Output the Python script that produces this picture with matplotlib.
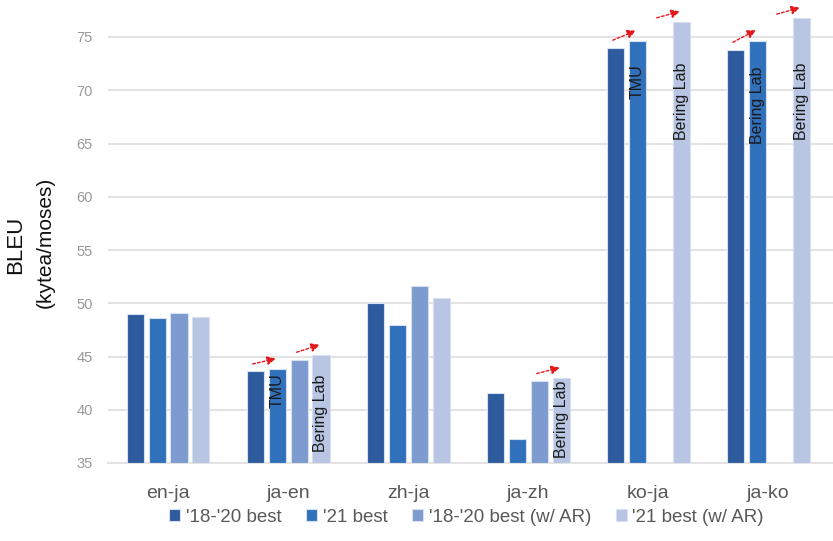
import numpy as np
import matplotlib
matplotlib.use("Agg")
import matplotlib.pyplot as plt

plt.rcParams["font.family"] = ["Liberation Sans", "DejaVu Sans"]

pairs = ["en-ja", "ja-en", "zh-ja", "ja-zh", "ko-ja", "ja-ko"]
series = ["'18-'20 best", "'21 best", "'18-'20 best (w/ AR)", "'21 best (w/ AR)"]

best_18_20 = [49.0, 43.6, 50.0, 41.6, 74.0, 73.8]
best_21 = [48.6, 43.8, 48.0, 37.25, 74.6, 74.65]
best_18_20_ar = [49.05, 44.7, 51.6, 42.7, np.nan, np.nan]
best_21_ar = [48.7, 45.1, 50.5, 42.95, 76.4, 76.75]

# team names written inside bars: (pair, series, text)
labels = [(1, 1, "TMU"), (1, 3, "Bering Lab"), (3, 3, "Bering Lab"),
          (4, 1, "TMU"), (4, 3, "Bering Lab"),
          (5, 1, "Bering Lab"), (5, 3, "Bering Lab")]
label_tops = [43.4, 43.3, 42.7, 72.4, 72.6, 72.2, 72.6]

# improvement arrows: (pair, from series, to series)
arrows = [(1, 0, 1), (1, 2, 3), (3, 2, 3), (4, 0, 1), (4, 2, 3), (5, 0, 1), (5, 2, 3)]

colors = ["#2D5B9E", "#3171BB", "#7E9BCF", "#B8C5E3"]
values = [best_18_20, best_21, best_18_20_ar, best_21_ar]

fig = plt.figure(figsize=(8.33, 5.41), dpi=100)
ax = fig.add_axes([108 / 833, 1 - 463 / 541, 1 - 108 / 833, 463 / 541])

x = np.arange(len(pairs))
step = 0.183
width = 0.142
offsets = (np.arange(4) - 1.5) * step

for i in range(4):
    ax.bar(x + offsets[i], np.array(values[i]) - 35, width, bottom=35,
           color=colors[i], edgecolor="#d6e0f0", linewidth=0.8,
           label=series[i], zorder=3)

for (p, s, txt), top in zip(labels, label_tops):
    ax.text(x[p] + offsets[s], top, txt, rotation=90, ha="center", va="top",
            fontsize=11.5, color="#1a1a1a", zorder=5)

for p, a, b in arrows:
    vb = values[b][p]
    va = values[a][p]
    y0 = va + 0.7 if not np.isnan(va) else vb + 0.4
    ax.annotate("", xy=(x[p] + offsets[b] - 0.01, vb + 1.0),
                xytext=(x[p] + offsets[a] - 0.02, y0),
                arrowprops=dict(arrowstyle="-|>", color="#e31a1c", lw=1.0,
                                linestyle=(0, (2, 1.5)), mutation_scale=13,
                                shrinkA=0, shrinkB=0),
                zorder=6, annotation_clip=False)

ax.set_xlim(-0.5, 5.54)
ax.set_ylim(35, 35 + 463 / 10.65)
ax.set_yticks(range(35, 80, 5))
ax.set_xticks(x)
ax.set_xticklabels(pairs)
ax.tick_params(axis="x", length=0, pad=16, labelsize=14, colors="#595959")
ax.tick_params(axis="y", length=0, pad=11, labelsize=10.5, colors="#999999")
ax.grid(axis="y", color="#e3e3e3", linewidth=1.5, zorder=0)
for side in ["top", "right", "left"]:
    ax.spines[side].set_visible(False)
ax.spines["bottom"].set_color("#e3e3e3")
ax.spines["bottom"].set_linewidth(1.5)

fig.text(16 / 833, 1 - 245 / 541, "BLEU", rotation=90, ha="center", va="center",
         fontsize=16, color="#111111")
fig.text(45 / 833, 1 - 242 / 541, "(kytea/moses)", rotation=90, ha="center",
         va="center", fontsize=15, color="#111111")

fig.legend(loc="center", bbox_to_anchor=(0.56, 1 - 517 / 541), ncol=4,
           frameon=False, fontsize=13.5, handlelength=0.6, handleheight=0.6,
           handletextpad=0.3, columnspacing=1.3, labelcolor="#595959")

fig.savefig("out.png", dpi=100)
